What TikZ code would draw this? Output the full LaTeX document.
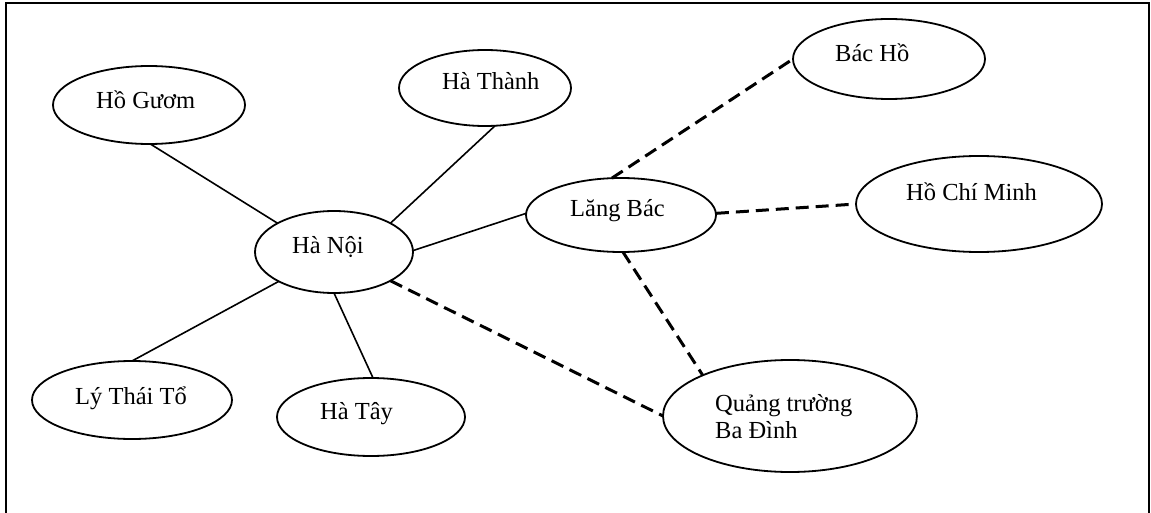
\documentclass[tikz,border=0pt]{standalone}
\usepackage{fontspec}
\setmainfont{Liberation Serif}
\usetikzlibrary{shapes.geometric}
\begin{document}
\begin{tikzpicture}[x=1pt,y=-1pt,
  bubble/.style={ellipse,draw,line width=1.8pt,inner sep=0pt,outer sep=0pt},
  word/.style={anchor=base west,inner sep=0pt,font=\fontsize{24.5}{27}\selectfont},
  solidlink/.style={line width=1.6pt},
  dashlink/.style={line width=3pt,dash pattern=on 13pt off 7pt},
  frame/.style={line width=2pt}]
\useasboundingbox (0,0) rectangle (1151,513);
% open frame (no bottom edge)
\draw[frame] (6,513) -- (6,3) -- (1149,3) -- (1149,513);

% ellipses
\node[bubble,minimum width=192pt,minimum height=78pt] (hg) at (149,105) {};
\node[bubble,minimum width=172pt,minimum height=76pt] (ht) at (485,88) {};
\node[bubble,minimum width=158pt,minimum height=82pt] (hn) at (334,252) {};
\node[bubble,minimum width=190pt,minimum height=74pt] (lb) at (621,215) {};
\node[bubble,minimum width=192pt,minimum height=80pt] (bh) at (889,59) {};
\node[bubble,minimum width=246pt,minimum height=96pt] (hcm) at (979,204) {};
\node[bubble,minimum width=200pt,minimum height=78pt] (ltt) at (132,400) {};
\node[bubble,minimum width=188pt,minimum height=78pt] (hty) at (371,417) {};
\node[bubble,minimum width=254pt,minimum height=112pt] (qbd) at (790,416) {};

% labels
\node[word] (hg-t) at (96,109) {Hồ Gươm};
\node[word] (ht-t) at (442,90) {Hà Thành};
\node[word] (hn-t) at (292,253) {Hà Nội};
\node[word] (lb-t) at (570,217) {Lăng Bác};
\node[word] (bh-t) at (835,62) {Bác Hồ};
\node[word] (hcm-t) at (906,201) {Hồ Chí Minh};
\node[word] (ltt-t) at (75,404) {Lý Thái Tổ};
\node[word] (hty-t) at (320,419) {Hà Tây};
\node[word] (qbd-t1) at (715,411) {Quảng trường};
\node[word] (qbd-t2) at (715,438) {Ba Đình};

% solid links
\draw[solidlink] (hg.-88) -- (hn.153);
\draw[solidlink] (ht.-75) -- (hn.27);
\draw[solidlink] (hn.1) -- (lb.179);
\draw[solidlink] (hn.208) -- (ltt.90);
\draw[solidlink] (hn.-90) -- (hty.87);

% dashed links
\draw[dashlink] (hn.-27) -- (qbd.180);
\draw[dashlink] (lb.-87) -- (qbd.155);
\draw[dashlink] (lb.104) -- (bh.180);
\draw[dashlink] (lb.1) -- (hcm.180);
\end{tikzpicture}
\end{document}
